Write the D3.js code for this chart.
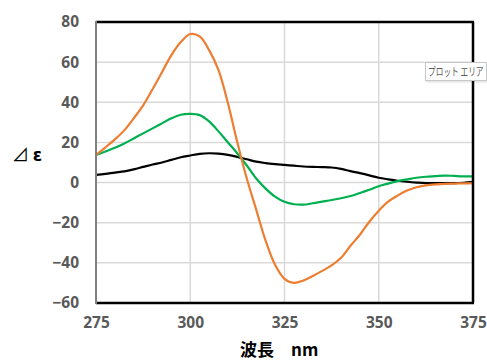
<!DOCTYPE html>
<html><head><meta charset="utf-8">
<script src="https://cdn.jsdelivr.net/npm/d3@7"></script>
<style>body{margin:0;background:#fff}svg{display:block}</style>
</head><body>
<script>
const wavelengths = d3.range(275, 375.01, 2.5);
const orangeSeries = [13.7,17.5,21.5,26,32,38.5,46.5,55,63.5,70,74,72.8,66,56,39.5,20,2,-13.5,-29,-41,-48,-50,-48.8,-46.5,-44,-41.3,-37.5,-31.5,-26,-19.5,-14,-9.5,-6.5,-4,-2.3,-1.4,-0.9,-0.6,-0.5,-0.4,-0.3];
const greenSeries = [13.7,15.5,17.3,19.5,22,24.5,27,29.5,32,33.8,34.2,33.6,30.5,25.5,20,14.5,8.5,2,-3,-7,-9.6,-10.8,-11,-10.3,-9.5,-8.7,-7.8,-6.7,-5.2,-3.6,-1.8,-0.5,0.7,1.6,2.4,2.9,3.2,3.5,3.3,3.1,3.1];
const blackSeries = [3.8,4.3,5,5.6,6.6,7.8,9,10,11.3,12.6,13.5,14.3,14.6,14.4,13.8,12.8,11.6,10.4,9.7,9.2,8.8,8.4,8,7.8,7.7,7.5,6.8,5.7,4.7,3.6,2.4,1.6,0.9,0.4,0,-0.3,-0.3,-0.3,-0.3,-0.1,0.3];
const xTicks = [275,300,325,350,375];
const yTicks = [-60,-40,-20,0,20,40,60,80];
const seriesList = [
  {name:"black", values:blackSeries, color:"#000000"},
  {name:"green", values:greenSeries, color:"#00B050"},
  {name:"orange", values:orangeSeries, color:"#ED7D31"}
];

const W = 487, H = 361;
const m = {left:96, top:22, right:473, bottom:303};
const svg = d3.select("body").append("svg").attr("width", W).attr("height", H);
const x = d3.scaleLinear().domain([275,375]).range([m.left, m.right]);
const y = d3.scaleLinear().domain([-60,80]).range([m.bottom, m.top]);

// gridlines
svg.append("g").selectAll("line").data(yTicks).join("line")
  .attr("x1", m.left).attr("x2", m.right)
  .attr("y1", d=>y(d)).attr("y2", d=>y(d))
  .attr("stroke", "#d9d9d9").attr("stroke-width", 1.5);
svg.append("g").selectAll("line").data(xTicks).join("line")
  .attr("y1", m.top).attr("y2", m.bottom)
  .attr("x1", d=>x(d)).attr("x2", d=>x(d))
  .attr("stroke", "#d9d9d9").attr("stroke-width", 1.5);

// lines
const line = d3.line().x((d,i)=>x(wavelengths[i])).y(d=>y(d)).curve(d3.curveCatmullRom.alpha(0.5));
svg.append("g").selectAll("path").data(seriesList).join("path")
  .attr("d", d=>line(d.values)).attr("fill","none")
  .attr("stroke", d=>d.color).attr("stroke-width", 2.2)
  .attr("stroke-linejoin","round");

// border
svg.append("line").attr("x1", m.left).attr("x2", m.right+1).attr("y1", m.top).attr("y2", m.top).attr("stroke","#000").attr("stroke-width",2.5);
svg.append("line").attr("x1", m.right).attr("x2", m.right).attr("y1", m.top).attr("y2", m.bottom).attr("stroke","#000").attr("stroke-width",2.5);
svg.append("line").attr("x1", m.left).attr("x2", m.right+1).attr("y1", m.bottom).attr("y2", m.bottom).attr("stroke","#000").attr("stroke-width",2.5);
svg.append("line").attr("x1", m.left).attr("x2", m.left).attr("y1", m.top-1).attr("y2", m.bottom+1).attr("stroke","#7f7f7f").attr("stroke-width",2);

// axes labels via d3 axes
const font = "'Open Sans', 'Noto Sans', sans-serif";
const yAxis = svg.append("g").attr("transform", `translate(${m.left},0)`)
  .call(d3.axisLeft(y).tickValues(yTicks).tickSize(0).tickPadding(17));
const xAxis = svg.append("g").attr("transform", `translate(0,${m.bottom})`)
  .call(d3.axisBottom(x).tickValues(xTicks).tickSize(0).tickPadding(14));
[yAxis, xAxis].forEach(a=>{
  a.select(".domain").remove();
  a.selectAll("text").attr("fill","#595959").style("font-family", font)
   .style("font-size","15.5px").style("font-weight","bold");
});

// axis titles
const yt = svg.append("text").attr("x", 12).attr("y", 161)
  .style("font-family", "'Noto Sans CJK JP', sans-serif").style("font-size","17px").attr("fill","#000");
yt.append("tspan").text("⊿ ");
yt.append("tspan").text("ε").style("font-weight","bold").style("font-family","'DejaVu Sans', sans-serif");
svg.append("text").attr("x", 240).attr("y", 356).text("波長　nm")
  .style("font-family","'Noto Sans CJK JP', sans-serif").style("font-size","17px").style("font-weight","bold").attr("fill","#000");

// tooltip
const tip = svg.append("g");
tip.append("rect").attr("x", 425.5).attr("y", 62.5).attr("width", 61).attr("height", 18)
  .attr("fill","#fff").attr("stroke","#c8c8c8").attr("stroke-width",1)
  .style("filter","drop-shadow(1px 1px 1px rgba(0,0,0,0.15))");
tip.append("text").attr("transform", "translate(428,76) scale(0.7,1)").text("プロット エリア")
  .style("font-family","'Noto Sans CJK JP', sans-serif").style("font-size","11px").attr("fill","#595959");
</script>
</body></html>
